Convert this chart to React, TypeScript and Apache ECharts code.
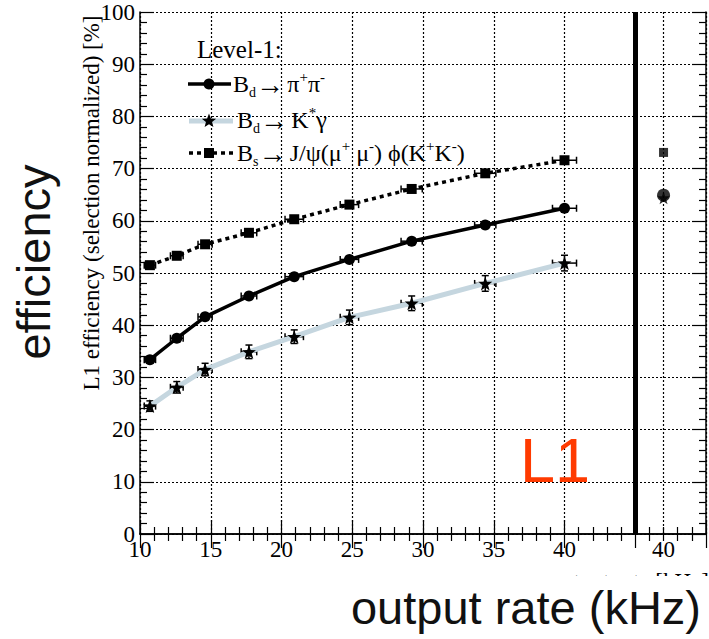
import React, { useEffect, useRef } from "react";
import * as echarts from "echarts";

// ---- data ----
const rates = [10.7, 12.6, 14.6, 17.7, 20.9, 24.8, 29.2, 34.4, 40.0];
const rateErr = [0.4, 0.45, 0.5, 0.55, 0.65, 0.65, 0.75, 0.75, 0.85];

const effPiPi = [33.4, 37.5, 41.6, 45.6, 49.3, 52.6, 56.1, 59.2, 62.4];
const errPiPi = [0.6, 0.6, 0.6, 0.6, 0.6, 0.6, 0.6, 0.6, 0.6];

const effKstarGamma = [24.5, 28.1, 31.5, 34.9, 37.8, 41.5, 44.2, 48.0, 51.9];
const errKstarGamma = [1.0, 1.1, 1.2, 1.3, 1.3, 1.4, 1.4, 1.5, 1.5];

const effBsJpsiPhi = [51.5, 53.3, 55.5, 57.7, 60.3, 63.1, 66.1, 69.1, 71.6];
const errBsJpsiPhi = [0.5, 0.5, 0.5, 0.5, 0.5, 0.5, 0.5, 0.5, 0.5];

// right-hand panel (reference point drawn at axis position 47, labelled "40")
const refRate = 47;
const refRateLabel = "40";
const refPiPi = 64.9;
const refKstarGamma = 64.4;
const refBsJpsiPhi = 73.1;

const separatorRate = 45;

const xMin = 10;
const xMax = 50;
const xInterval = 5;
const yMin = 0;
const yMax = 100;
const yInterval = 10;

const SERIF = "'Liberation Serif', 'Times New Roman', serif";
const SANS = "'Liberation Sans', Arial, sans-serif";

const STAR =
  "path://M0,-10 L2.35,-3.24 L9.51,-3.09 L3.8,1.24 L5.88,8.09 L0,4.2 L-5.88,8.09 L-3.8,1.24 L-9.51,-3.09 L-2.35,-3.24 Z";

function starPoints(cx: number, cy: number, R: number, r: number) {
  const pts: number[][] = [];
  for (let i = 0; i < 10; i++) {
    const a = -Math.PI / 2 + (i * Math.PI) / 5;
    const rad = i % 2 === 0 ? R : r;
    pts.push([cx + rad * Math.cos(a), cy + rad * Math.sin(a)]);
  }
  return pts;
}

const pair = (xs: number[], ys: number[]) => xs.map((x, i) => [x, ys[i]]);

export default function App() {
  const ref = useRef<HTMLDivElement>(null);

  useEffect(() => {
    if (!ref.current) return;
    const chart = echarts.init(ref.current, null, { renderer: "svg" });

    const errData: number[][] = [];
    rates.forEach((x, i) => {
      errData.push([x, effPiPi[i], rateErr[i], errPiPi[i]]);
      errData.push([x, effKstarGamma[i], rateErr[i], errKstarGamma[i]]);
      errData.push([x, effBsJpsiPhi[i], rateErr[i], errBsJpsiPhi[i]]);
    });

    const gridLine = { show: true, lineStyle: { color: "#000", type: [2, 2] as any, width: 1.2 } };
    const frameLine = { show: true, lineStyle: { color: "#000", width: 1.5 } };
    const tickStyle = { color: "#000", width: 1.2 };

    const rich = {
      m: { fontSize: 24, fontFamily: SERIF, fill: "#000", lineHeight: 30 },
      a: { fontSize: 28, fontFamily: SERIF, fill: "#000", lineHeight: 30 },
      s: { fontSize: 14, fontFamily: SERIF, fill: "#000", lineHeight: 13, verticalAlign: "bottom" },
      p: { fontSize: 15, fontFamily: SERIF, fill: "#000", lineHeight: 14, verticalAlign: "top" },
    };

    const option: any = {
      animation: false,
      backgroundColor: "#fff",
      grid: { left: 140, top: 12, width: 572, height: 522, containLabel: false },
      xAxis: [
        {
          type: "value",
          min: xMin,
          max: xMax,
          interval: xInterval,
          axisLine: frameLine,
          axisTick: { show: true, inside: true, length: 14, lineStyle: tickStyle },
          minorTick: { show: true, splitNumber: 5, length: 7, lineStyle: tickStyle },
          splitLine: gridLine,
          axisLabel: {
            show: true,
            margin: 4,
            fontSize: 23,
            fontFamily: SERIF,
            color: "#000",
            formatter: (v: number) => (v <= 40 ? String(v) : ""),
          },
        },
        {
          type: "value",
          position: "top",
          min: xMin,
          max: xMax,
          interval: xInterval,
          axisLine: frameLine,
          axisTick: { show: true, inside: true, length: 14, lineStyle: tickStyle },
          minorTick: { show: true, splitNumber: 5, length: 7, lineStyle: tickStyle },
          splitLine: { show: false },
          axisLabel: { show: false },
        },
      ],
      yAxis: [
        {
          type: "value",
          min: yMin,
          max: yMax,
          interval: yInterval,
          axisLine: frameLine,
          axisTick: { show: true, inside: true, length: 14, lineStyle: tickStyle },
          minorTick: { show: true, splitNumber: 5, length: 7, lineStyle: tickStyle },
          splitLine: gridLine,
          axisLabel: { show: true, margin: 5, fontSize: 23, fontFamily: SERIF, color: "#000" },
        },
        {
          type: "value",
          position: "right",
          min: yMin,
          max: yMax,
          interval: yInterval,
          axisLine: frameLine,
          axisTick: { show: true, inside: true, length: 14, lineStyle: tickStyle },
          minorTick: { show: true, splitNumber: 5, length: 7, lineStyle: tickStyle },
          splitLine: { show: false },
          axisLabel: { show: false },
        },
      ],
      series: [
        {
          name: "Bd→ππ",
          type: "line",
          data: pair(rates, effPiPi),
          symbol: "circle",
          symbolSize: 11,
          lineStyle: { color: "#000", width: 3.5 },
          itemStyle: { color: "#000" },
          z: 4,
          markLine: {
            silent: true,
            symbol: "none",
            data: [
              {
                xAxis: separatorRate,
                lineStyle: { color: "#000", width: 5, type: "solid" },
                label: { show: false },
              },
              {
                xAxis: refRate,
                lineStyle: { color: "#000", width: 1.2, type: [2, 2] },
                label: {
                  show: true,
                  position: "start",
                  formatter: refRateLabel,
                  fontSize: 23,
                  fontFamily: SERIF,
                  color: "#000",
                  distance: 4,
                },
              },
            ],
          },
        },
        {
          name: "Bd→K*γ",
          type: "line",
          data: pair(rates, effKstarGamma),
          symbol: STAR,
          symbolSize: 14,
          lineStyle: { color: "#c5d6df", width: 5 },
          itemStyle: { color: "#000" },
          z: 3,
        },
        {
          name: "Bs→J/ψφ",
          type: "line",
          data: pair(rates, effBsJpsiPhi),
          symbol: "rect",
          symbolSize: 10,
          lineStyle: { color: "#000", width: 3.5, type: [4, 4] },
          itemStyle: { color: "#000" },
          z: 4,
        },
        {
          type: "scatter",
          data: [[refRate, refKstarGamma]],
          symbol: STAR,
          symbolSize: 13,
          itemStyle: { color: "#000" },
          z: 4,
        },
        {
          type: "scatter",
          data: [[refRate, refPiPi]],
          symbol: "circle",
          symbolSize: 13,
          itemStyle: { color: "#000" },
          z: 5,
        },
        {
          type: "scatter",
          data: [[refRate, refBsJpsiPhi]],
          symbol: "rect",
          symbolSize: 9,
          itemStyle: { color: "#000" },
          z: 5,
        },
        {
          type: "custom",
          data: errData,
          z: 2,
          silent: true,
          renderItem: (params: any, api: any) => {
            const x = api.value(0);
            const y = api.value(1);
            const ex = api.value(2);
            const ey = api.value(3);
            const c = api.coord([x, y]);
            const l = api.coord([x - ex, y]);
            const r = api.coord([x + ex, y]);
            const t = api.coord([x, y + ey]);
            const b = api.coord([x, y - ey]);
            const cap = 3.5;
            const style = { stroke: "#000", lineWidth: 1.5 };
            return {
              type: "group",
              children: [
                { type: "line", shape: { x1: l[0], y1: c[1], x2: r[0], y2: c[1] }, style },
                { type: "line", shape: { x1: l[0], y1: c[1] - cap, x2: l[0], y2: c[1] + cap }, style },
                { type: "line", shape: { x1: r[0], y1: c[1] - cap, x2: r[0], y2: c[1] + cap }, style },
                { type: "line", shape: { x1: c[0], y1: t[1], x2: c[0], y2: b[1] }, style },
                { type: "line", shape: { x1: c[0] - cap, y1: t[1], x2: c[0] + cap, y2: t[1] }, style },
                { type: "line", shape: { x1: c[0] - cap, y1: b[1], x2: c[0] + cap, y2: b[1] }, style },
              ],
            };
          },
        },
      ],
      graphic: [
        // legend
        {
          type: "text",
          x: 197,
          y: 49,
          z: 10,
          style: { text: "Level-1:", font: `25px ${SERIF}`, fill: "#000", textAlign: "left", textVerticalAlign: "middle" },
        },
        { type: "line", z: 10, shape: { x1: 188, y1: 84, x2: 231, y2: 84 }, style: { stroke: "#000", lineWidth: 3.5 } },
        { type: "circle", z: 11, shape: { cx: 209, cy: 84, r: 5.5 }, style: { fill: "#000" } },
        {
          type: "text",
          x: 233,
          y: 84,
          z: 10,
          style: {
            text: "{m|B}{s|d}{a|→} {m|π}{p|+}{m|π}{p|-}",
            rich,
            textAlign: "left",
            textVerticalAlign: "middle",
          },
        },
        { type: "line", z: 10, shape: { x1: 189, y1: 121, x2: 233, y2: 121 }, style: { stroke: "#c5d6df", lineWidth: 5 } },
        { type: "polygon", z: 11, shape: { points: starPoints(209, 121, 7.5, 3.2) }, style: { fill: "#000" } },
        {
          type: "text",
          x: 237,
          y: 120,
          z: 10,
          style: {
            text: "{m|B}{s|d}{a|→} {m|K}{p|*}{m|γ}",
            rich,
            textAlign: "left",
            textVerticalAlign: "middle",
          },
        },
        {
          type: "line",
          z: 10,
          shape: { x1: 189, y1: 153, x2: 233, y2: 153 },
          style: { stroke: "#000", lineWidth: 3.5, lineDash: [4, 4] },
        },
        { type: "rect", z: 11, shape: { x: 204, y: 148, width: 10, height: 10 }, style: { fill: "#000" } },
        {
          type: "text",
          x: 237,
          y: 153,
          z: 10,
          style: {
            text: "{m|B}{s|s}{a|→} {m|J/ψ(μ}{p|+}{m| μ}{p|-}{m|) ϕ(K}{p|+}{m|K}{p|-}{m|)}",
            rich,
            textAlign: "left",
            textVerticalAlign: "middle",
          },
        },
        // original y axis title
        {
          type: "text",
          x: 91,
          y: 203,
          rotation: Math.PI / 2,
          z: 10,
          style: {
            text: "L1 efficiency (selection normalized) [%]",
            font: `23px ${SERIF}`,
            fill: "#000",
            textAlign: "center",
            textVerticalAlign: "middle",
          },
        },
        // original x axis title, mostly covered
        {
          type: "text",
          x: 709,
          y: 581,
          z: 10,
          style: {
            text: "output rate [kHz]",
            font: `23px ${SERIF}`,
            fill: "#000",
            textAlign: "right",
            textVerticalAlign: "middle",
          },
        },
        { type: "rect", z: 11, shape: { x: 300, y: 576, width: 420, height: 70 }, style: { fill: "#fff" } },
        // big overlay labels
        {
          type: "text",
          x: 33,
          y: 262,
          rotation: Math.PI / 2,
          z: 12,
          style: {
            text: "efficiency",
            font: `47px ${SANS}`,
            fill: "#111",
            textAlign: "center",
            textVerticalAlign: "middle",
          },
        },
        {
          type: "text",
          x: 701,
          y: 607,
          z: 12,
          style: {
            text: "output rate (kHz)",
            font: `47px ${SANS}`,
            fill: "#111",
            textAlign: "right",
            textVerticalAlign: "middle",
          },
        },
        {
          type: "text",
          x: 520,
          y: 460,
          z: 12,
          style: {
            text: "L1",
            font: `63px ${SANS}`,
            fill: "#ff3a00",
            textAlign: "left",
            textVerticalAlign: "middle",
          },
        },
      ],
    };

    chart.setOption(option);
    return () => chart.dispose();
  }, []);

  return (
    <div
      ref={ref}
      style={{ position: "absolute", left: 0, top: 0, width: 709, height: 639, background: "#fff" }}
    />
  );
}
